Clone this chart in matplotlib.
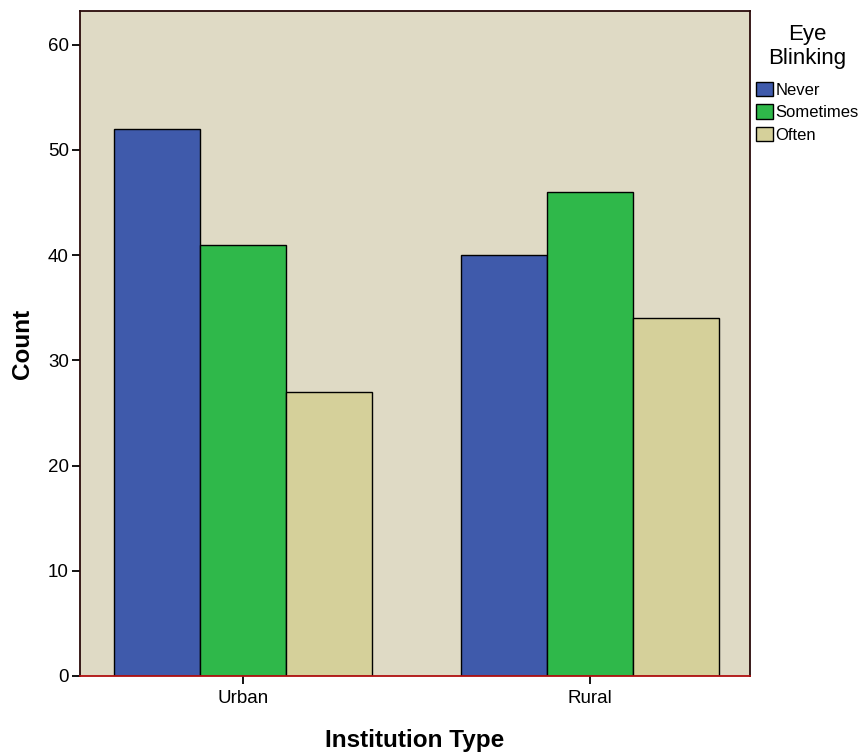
import numpy as np
import matplotlib.pyplot as plt

plt.rcParams['font.family'] = ['Liberation Sans', 'DejaVu Sans']

# data
institutions = ["Urban", "Rural"]
responses = ["Never", "Sometimes", "Often"]
never = [52, 40]
sometimes = [41, 46]
often = [27, 34]

colors = ["#3F5AAB", "#2FB84A", "#D5D09A"]

fig = plt.figure(figsize=(8.66, 7.53), dpi=100)
ax = fig.add_axes([0.0924, 0.1023, 0.7737, 0.8831])
ax.set_facecolor("#DFDAC5")

x = np.arange(len(institutions))
width = 0.248
for i, (vals, name) in enumerate(zip([never, sometimes, often], responses)):
    ax.bar(x + (i - 1) * width, vals, width, color=colors[i],
           edgecolor="black", linewidth=1.0, label=name, zorder=2)

ax.set_xlim(-0.47, 1.461)
ax.set_ylim(0, 63.2)
ax.set_yticks(range(0, 61, 10))
ax.set_xticks(x)
ax.set_xticklabels(institutions)

for s in ["top", "left", "right"]:
    ax.spines[s].set_color("#2A0A0A")
    ax.spines[s].set_linewidth(1.3)
ax.spines["bottom"].set_color("#B01010")
ax.spines["bottom"].set_linewidth(1.3)
ax.spines["bottom"].set_zorder(3)

ax.tick_params(axis="both", labelsize=13.5, length=6, width=1.3, color="black")
ax.tick_params(axis="x", pad=4)
ax.tick_params(axis="y", pad=2)

ax.set_xlabel("Institution Type", fontsize=17.5, fontweight="bold", labelpad=16)
ax.set_ylabel("Count", fontsize=17.5, fontweight="bold", labelpad=10)

leg = fig.legend(loc="upper left", bbox_to_anchor=(0.8675, 0.975),
                 title="Eye\nBlinking", fontsize=12, title_fontsize=16,
                 frameon=False, handlelength=1.0, handleheight=1.0,
                 handletextpad=0.15, labelspacing=0.38, borderpad=0.2,
                 borderaxespad=0.1)
leg._legend_box.align = "center"
leg._legend_box.sep = 9
leg.get_title().set_multialignment("center")

fig.savefig("out.png", dpi=100)
